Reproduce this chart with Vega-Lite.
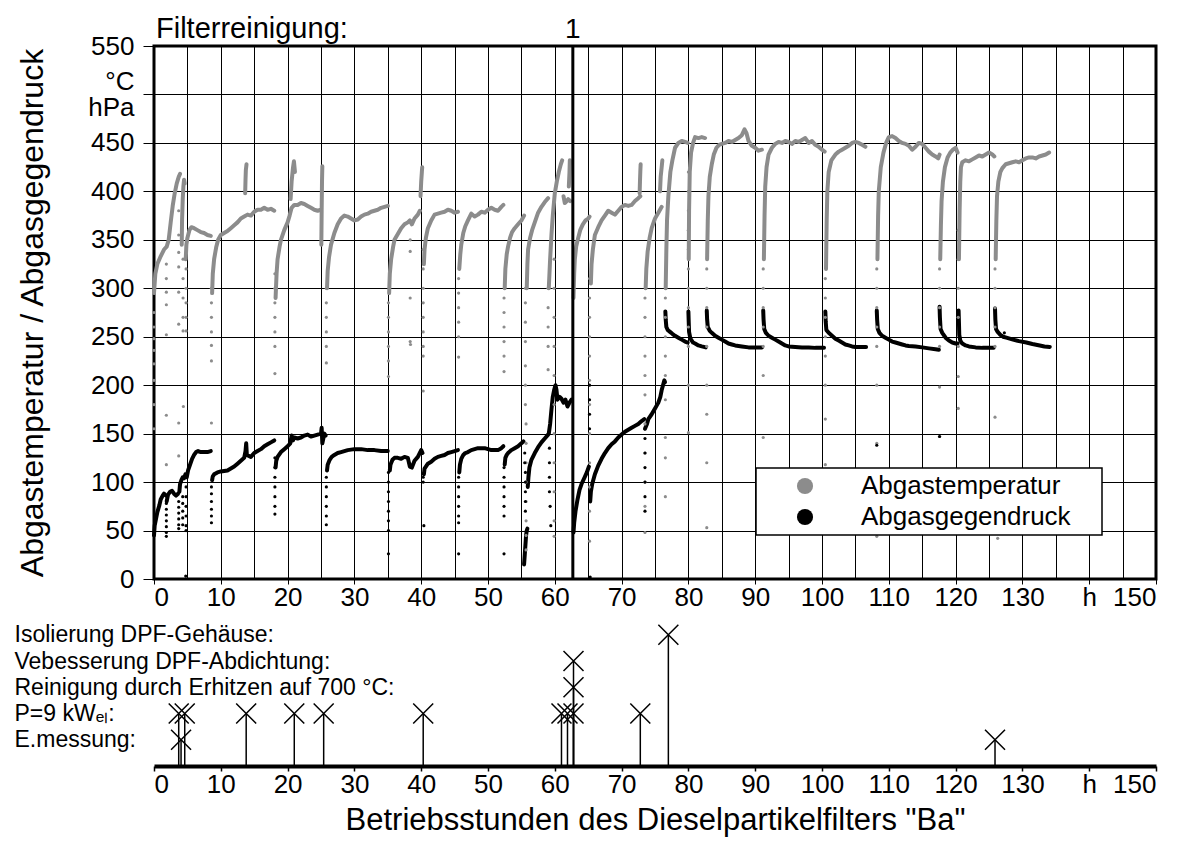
{
"$schema":"https://vega.github.io/schema/vega-lite/v6.json",
"padding":{"left":14,"top":13,"right":10,"bottom":4},
"config":{"font":"Liberation Sans","view":{"stroke":null},"concat":{"spacing":7},
"axis":{"labelColor":"#000","titleColor":"#000","labelFont":"Liberation Sans","titleFont":"Liberation Sans","titleFontWeight":"normal"},
"legend":{"labelFont":"Liberation Sans","strokeWidth":1.5},"text":{"font":"Liberation Sans"}},
"datasets":{
"curves":[
{"s":"T","g":"T1","h":0,"v":295},{"s":"T","g":"T1","h":0.2,"v":315},{"s":"T","g":"T1","h":0.5,"v":325},{"s":"T","g":"T1","h":1,"v":333},{"s":"T","g":"T1","h":1.5,"v":340},{"s":"T","g":"T1","h":1.9,"v":343},{"s":"T","g":"T1","h":2.2,"v":350},{"s":"T","g":"T1","h":2.5,"v":368},{"s":"T","g":"T1","h":2.8,"v":385},{"s":"T","g":"T1","h":3.1,"v":398},{"s":"T","g":"T1","h":3.4,"v":408},{"s":"T","g":"T1","h":3.7,"v":415},{"s":"T","g":"T1","h":3.9,"v":418},
{"s":"T","g":"T1b","h":4.15,"v":345},{"s":"T","g":"T1b","h":4.2,"v":370},{"s":"T","g":"T1b","h":4.3,"v":392},{"s":"T","g":"T1b","h":4.4,"v":405},{"s":"T","g":"T1b","h":4.5,"v":412},{"s":"T","g":"T1b","h":4.6,"v":408},
{"s":"T","g":"T2","h":4.75,"v":330},{"s":"T","g":"T2","h":4.85,"v":345},{"s":"T","g":"T2","h":5.0,"v":352},{"s":"T","g":"T2","h":5.3,"v":360},{"s":"T","g":"T2","h":5.6,"v":363},{"s":"T","g":"T2","h":6,"v":362},{"s":"T","g":"T2","h":6.5,"v":360},{"s":"T","g":"T2","h":7,"v":358},{"s":"T","g":"T2","h":7.5,"v":357},{"s":"T","g":"T2","h":8,"v":355},{"s":"T","g":"T2","h":8.5,"v":354},
{"s":"T","g":"T3","h":8.7,"v":295},{"s":"T","g":"T3","h":8.8,"v":315},{"s":"T","g":"T3","h":9,"v":330},{"s":"T","g":"T3","h":9.3,"v":342},{"s":"T","g":"T3","h":9.6,"v":350},{"s":"T","g":"T3","h":10,"v":355},{"s":"T","g":"T3","h":10.5,"v":357},{"s":"T","g":"T3","h":11,"v":359},{"s":"T","g":"T3","h":11.5,"v":362},{"s":"T","g":"T3","h":12,"v":365},{"s":"T","g":"T3","h":12.5,"v":368},{"s":"T","g":"T3","h":13,"v":372},{"s":"T","g":"T3","h":13.5,"v":374},{"s":"T","g":"T3","h":14,"v":376},{"s":"T","g":"T3","h":14.5,"v":375},{"s":"T","g":"T3","h":15,"v":379},{"s":"T","g":"T3","h":15.5,"v":381},{"s":"T","g":"T3","h":16,"v":381},{"s":"T","g":"T3","h":16.5,"v":383},{"s":"T","g":"T3","h":17,"v":381},{"s":"T","g":"T3","h":17.5,"v":382},{"s":"T","g":"T3","h":18,"v":380},
{"s":"T","g":"T3b","h":13.65,"v":398},{"s":"T","g":"T3b","h":13.7,"v":412},{"s":"T","g":"T3b","h":13.75,"v":422},{"s":"T","g":"T3b","h":13.85,"v":428},
{"s":"T","g":"T4","h":18.2,"v":290},{"s":"T","g":"T4","h":18.35,"v":315},{"s":"T","g":"T4","h":18.5,"v":330},{"s":"T","g":"T4","h":18.8,"v":343},{"s":"T","g":"T4","h":19,"v":350},{"s":"T","g":"T4","h":19.5,"v":360},{"s":"T","g":"T4","h":20,"v":368},{"s":"T","g":"T4","h":20.3,"v":375},{"s":"T","g":"T4","h":20.6,"v":383},{"s":"T","g":"T4","h":21,"v":386},{"s":"T","g":"T4","h":21.5,"v":386},{"s":"T","g":"T4","h":22,"v":388},{"s":"T","g":"T4","h":22.5,"v":387},{"s":"T","g":"T4","h":23,"v":385},{"s":"T","g":"T4","h":23.5,"v":383},{"s":"T","g":"T4","h":24,"v":381},{"s":"T","g":"T4","h":24.5,"v":380},{"s":"T","g":"T4","h":25,"v":381},
{"s":"T","g":"T4b","h":20.45,"v":392},{"s":"T","g":"T4b","h":20.6,"v":410},{"s":"T","g":"T4b","h":20.8,"v":424},{"s":"T","g":"T4b","h":20.95,"v":431},{"s":"T","g":"T4b","h":21.1,"v":420},
{"s":"T","g":"T4c","h":25.05,"v":345},{"s":"T","g":"T4c","h":25.1,"v":380},{"s":"T","g":"T4c","h":25.15,"v":410},{"s":"T","g":"T4c","h":25.2,"v":426},
{"s":"T","g":"T5","h":25.9,"v":300},{"s":"T","g":"T5","h":26.0,"v":318},{"s":"T","g":"T5","h":26.2,"v":332},{"s":"T","g":"T5","h":26.5,"v":345},{"s":"T","g":"T5","h":27,"v":357},{"s":"T","g":"T5","h":27.5,"v":366},{"s":"T","g":"T5","h":28,"v":372},{"s":"T","g":"T5","h":28.5,"v":375},{"s":"T","g":"T5","h":29,"v":374},{"s":"T","g":"T5","h":29.5,"v":372},{"s":"T","g":"T5","h":30,"v":370},{"s":"T","g":"T5","h":30.5,"v":371},{"s":"T","g":"T5","h":31,"v":374},{"s":"T","g":"T5","h":31.5,"v":376},{"s":"T","g":"T5","h":32,"v":377},{"s":"T","g":"T5","h":32.5,"v":379},{"s":"T","g":"T5","h":33,"v":380},{"s":"T","g":"T5","h":33.5,"v":381},{"s":"T","g":"T5","h":34,"v":383},{"s":"T","g":"T5","h":34.5,"v":384},{"s":"T","g":"T5","h":35,"v":385},
{"s":"T","g":"T6","h":35.2,"v":295},{"s":"T","g":"T6","h":35.3,"v":315},{"s":"T","g":"T6","h":35.5,"v":330},{"s":"T","g":"T6","h":35.8,"v":343},{"s":"T","g":"T6","h":36,"v":350},{"s":"T","g":"T6","h":36.5,"v":356},{"s":"T","g":"T6","h":37,"v":362},{"s":"T","g":"T6","h":37.5,"v":366},{"s":"T","g":"T6","h":38,"v":368},{"s":"T","g":"T6","h":38.3,"v":370},{"s":"T","g":"T6","h":38.6,"v":366},{"s":"T","g":"T6","h":39,"v":372},{"s":"T","g":"T6","h":39.5,"v":376},{"s":"T","g":"T6","h":39.8,"v":380},
{"s":"T","g":"T6b","h":39.9,"v":395},{"s":"T","g":"T6b","h":40.0,"v":410},{"s":"T","g":"T6b","h":40.1,"v":420},{"s":"T","g":"T6b","h":40.15,"v":425},
{"s":"T","g":"T7","h":40.4,"v":325},{"s":"T","g":"T7","h":40.5,"v":340},{"s":"T","g":"T7","h":40.7,"v":352},{"s":"T","g":"T7","h":41,"v":362},{"s":"T","g":"T7","h":41.5,"v":370},{"s":"T","g":"T7","h":42,"v":376},{"s":"T","g":"T7","h":42.5,"v":377},{"s":"T","g":"T7","h":43,"v":378},{"s":"T","g":"T7","h":43.5,"v":379},{"s":"T","g":"T7","h":44,"v":381},{"s":"T","g":"T7","h":44.5,"v":380},{"s":"T","g":"T7","h":45,"v":378},{"s":"T","g":"T7","h":45.5,"v":379},
{"s":"T","g":"T8","h":45.7,"v":320},{"s":"T","g":"T8","h":45.85,"v":335},{"s":"T","g":"T8","h":46,"v":345},{"s":"T","g":"T8","h":46.3,"v":357},{"s":"T","g":"T8","h":46.6,"v":364},{"s":"T","g":"T8","h":47,"v":370},{"s":"T","g":"T8","h":47.5,"v":377},{"s":"T","g":"T8","h":48,"v":374},{"s":"T","g":"T8","h":48.5,"v":376},{"s":"T","g":"T8","h":49,"v":379},{"s":"T","g":"T8","h":49.5,"v":378},{"s":"T","g":"T8","h":50,"v":381},{"s":"T","g":"T8","h":50.5,"v":383},{"s":"T","g":"T8","h":51,"v":381},{"s":"T","g":"T8","h":51.5,"v":380},{"s":"T","g":"T8","h":52,"v":384},{"s":"T","g":"T8","h":52.3,"v":386},
{"s":"T","g":"T9","h":52.5,"v":300},{"s":"T","g":"T9","h":52.6,"v":320},{"s":"T","g":"T9","h":52.8,"v":335},{"s":"T","g":"T9","h":53,"v":343},{"s":"T","g":"T9","h":53.3,"v":352},{"s":"T","g":"T9","h":53.6,"v":358},{"s":"T","g":"T9","h":54,"v":362},{"s":"T","g":"T9","h":54.5,"v":366},{"s":"T","g":"T9","h":55,"v":370},{"s":"T","g":"T9","h":55.4,"v":375},
{"s":"T","g":"T10","h":55.8,"v":300},{"s":"T","g":"T10","h":55.9,"v":325},{"s":"T","g":"T10","h":56,"v":340},{"s":"T","g":"T10","h":56.3,"v":352},{"s":"T","g":"T10","h":56.6,"v":360},{"s":"T","g":"T10","h":57,"v":368},{"s":"T","g":"T10","h":57.5,"v":378},{"s":"T","g":"T10","h":58,"v":384},{"s":"T","g":"T10","h":58.5,"v":389},{"s":"T","g":"T10","h":59,"v":393},
{"s":"T","g":"T11","h":59.1,"v":300},{"s":"T","g":"T11","h":59.3,"v":330},{"s":"T","g":"T11","h":59.5,"v":355},{"s":"T","g":"T11","h":59.7,"v":375},{"s":"T","g":"T11","h":60,"v":398},{"s":"T","g":"T11","h":60.3,"v":410},{"s":"T","g":"T11","h":60.6,"v":420},{"s":"T","g":"T11","h":60.9,"v":428},{"s":"T","g":"T11","h":61.1,"v":432},
{"s":"T","g":"T11b","h":61.3,"v":395},{"s":"T","g":"T11b","h":61.5,"v":388},{"s":"T","g":"T11b","h":61.8,"v":390},{"s":"T","g":"T11b","h":62,"v":392},{"s":"T","g":"T11b","h":62.3,"v":390},
{"s":"T","g":"T11c","h":62.1,"v":405},{"s":"T","g":"T11c","h":62.2,"v":420},{"s":"T","g":"T11c","h":62.25,"v":432},
{"s":"T","g":"T12","h":62.8,"v":290},{"s":"T","g":"T12","h":62.9,"v":315},{"s":"T","g":"T12","h":63,"v":330},{"s":"T","g":"T12","h":63.2,"v":343},{"s":"T","g":"T12","h":63.5,"v":352},{"s":"T","g":"T12","h":63.8,"v":360},{"s":"T","g":"T12","h":64.2,"v":366},{"s":"T","g":"T12","h":64.6,"v":370},{"s":"T","g":"T12","h":65,"v":372},{"s":"T","g":"T12","h":65.2,"v":374},
{"s":"T","g":"T13","h":65.4,"v":305},{"s":"T","g":"T13","h":65.5,"v":325},{"s":"T","g":"T13","h":65.7,"v":340},{"s":"T","g":"T13","h":66,"v":355},{"s":"T","g":"T13","h":66.5,"v":363},{"s":"T","g":"T13","h":67,"v":370},{"s":"T","g":"T13","h":67.5,"v":375},{"s":"T","g":"T13","h":68,"v":380},{"s":"T","g":"T13","h":68.5,"v":378},{"s":"T","g":"T13","h":69,"v":376},{"s":"T","g":"T13","h":69.5,"v":380},{"s":"T","g":"T13","h":70,"v":384},{"s":"T","g":"T13","h":70.5,"v":386},{"s":"T","g":"T13","h":71,"v":385},{"s":"T","g":"T13","h":71.5,"v":386},{"s":"T","g":"T13","h":72,"v":390},{"s":"T","g":"T13","h":72.5,"v":393},{"s":"T","g":"T13","h":72.8,"v":395},
{"s":"T","g":"T13b","h":72.7,"v":398},{"s":"T","g":"T13b","h":72.75,"v":410},{"s":"T","g":"T13b","h":72.8,"v":420},{"s":"T","g":"T13b","h":72.85,"v":428},
{"s":"T","g":"T14","h":73.6,"v":300},{"s":"T","g":"T14","h":73.7,"v":320},{"s":"T","g":"T14","h":73.9,"v":338},{"s":"T","g":"T14","h":74.2,"v":352},{"s":"T","g":"T14","h":74.5,"v":362},{"s":"T","g":"T14","h":75,"v":372},{"s":"T","g":"T14","h":75.5,"v":378},{"s":"T","g":"T14","h":76,"v":384},
{"s":"T","g":"T14b","h":75.75,"v":400},{"s":"T","g":"T14b","h":75.85,"v":415},{"s":"T","g":"T14b","h":76.0,"v":425},{"s":"T","g":"T14b","h":76.1,"v":432},
{"s":"T","g":"T15","h":76.6,"v":300},{"s":"T","g":"T15","h":76.7,"v":340},{"s":"T","g":"T15","h":76.8,"v":370},{"s":"T","g":"T15","h":77,"v":395},{"s":"T","g":"T15","h":77.3,"v":420},{"s":"T","g":"T15","h":77.6,"v":432},{"s":"T","g":"T15","h":78,"v":445},{"s":"T","g":"T15","h":78.5,"v":450},{"s":"T","g":"T15","h":79,"v":452},{"s":"T","g":"T15","h":79.5,"v":451},{"s":"T","g":"T15","h":79.9,"v":450},
{"s":"T","g":"T15b","h":80.05,"v":330},{"s":"T","g":"T15b","h":80.1,"v":380},{"s":"T","g":"T15b","h":80.2,"v":420},{"s":"T","g":"T15b","h":80.4,"v":440},{"s":"T","g":"T15b","h":80.7,"v":450},{"s":"T","g":"T15b","h":81,"v":456},{"s":"T","g":"T15b","h":81.5,"v":455},{"s":"T","g":"T15b","h":82,"v":456},{"s":"T","g":"T15b","h":82.5,"v":455},
{"s":"T","g":"T16","h":82.8,"v":330},{"s":"T","g":"T16","h":82.9,"v":370},{"s":"T","g":"T16","h":83,"v":395},{"s":"T","g":"T16","h":83.2,"v":415},{"s":"T","g":"T16","h":83.5,"v":428},{"s":"T","g":"T16","h":83.8,"v":438},{"s":"T","g":"T16","h":84.2,"v":445},{"s":"T","g":"T16","h":84.6,"v":448},{"s":"T","g":"T16","h":85,"v":449},{"s":"T","g":"T16","h":85.5,"v":450},{"s":"T","g":"T16","h":86,"v":452},{"s":"T","g":"T16","h":86.5,"v":451},{"s":"T","g":"T16","h":87,"v":453},{"s":"T","g":"T16","h":87.5,"v":455},{"s":"T","g":"T16","h":88,"v":458},{"s":"T","g":"T16","h":88.4,"v":464},{"s":"T","g":"T16","h":88.7,"v":460},{"s":"T","g":"T16","h":89,"v":452},{"s":"T","g":"T16","h":89.5,"v":447},{"s":"T","g":"T16","h":90,"v":445},{"s":"T","g":"T16","h":90.5,"v":442},{"s":"T","g":"T16","h":91,"v":443},
{"s":"T","g":"T17","h":91.3,"v":330},{"s":"T","g":"T17","h":91.4,"v":375},{"s":"T","g":"T17","h":91.5,"v":405},{"s":"T","g":"T17","h":91.7,"v":425},{"s":"T","g":"T17","h":92,"v":438},{"s":"T","g":"T17","h":92.5,"v":445},{"s":"T","g":"T17","h":93,"v":449},{"s":"T","g":"T17","h":93.5,"v":451},{"s":"T","g":"T17","h":94,"v":450},{"s":"T","g":"T17","h":94.5,"v":452},{"s":"T","g":"T17","h":95,"v":451},{"s":"T","g":"T17","h":95.5,"v":449},{"s":"T","g":"T17","h":96,"v":452},{"s":"T","g":"T17","h":96.5,"v":451},{"s":"T","g":"T17","h":97,"v":453},{"s":"T","g":"T17","h":97.5,"v":455},{"s":"T","g":"T17","h":98,"v":450},{"s":"T","g":"T17","h":98.5,"v":452},{"s":"T","g":"T17","h":99,"v":448},{"s":"T","g":"T17","h":99.5,"v":446},{"s":"T","g":"T17","h":100,"v":443},{"s":"T","g":"T17","h":100.4,"v":441},
{"s":"T","g":"T18","h":100.6,"v":320},{"s":"T","g":"T18","h":100.7,"v":370},{"s":"T","g":"T18","h":100.8,"v":400},{"s":"T","g":"T18","h":101,"v":420},{"s":"T","g":"T18","h":101.4,"v":432},{"s":"T","g":"T18","h":102,"v":438},{"s":"T","g":"T18","h":102.5,"v":441},{"s":"T","g":"T18","h":103,"v":443},{"s":"T","g":"T18","h":103.5,"v":445},{"s":"T","g":"T18","h":104,"v":447},{"s":"T","g":"T18","h":104.5,"v":450},{"s":"T","g":"T18","h":105,"v":451},{"s":"T","g":"T18","h":105.5,"v":450},{"s":"T","g":"T18","h":106,"v":448},{"s":"T","g":"T18","h":106.5,"v":446},
{"s":"T","g":"T19","h":108.3,"v":330},{"s":"T","g":"T19","h":108.4,"v":375},{"s":"T","g":"T19","h":108.5,"v":400},{"s":"T","g":"T19","h":108.8,"v":425},{"s":"T","g":"T19","h":109.2,"v":440},{"s":"T","g":"T19","h":109.6,"v":450},{"s":"T","g":"T19","h":110,"v":456},{"s":"T","g":"T19","h":110.5,"v":457},{"s":"T","g":"T19","h":111,"v":455},{"s":"T","g":"T19","h":111.5,"v":452},{"s":"T","g":"T19","h":112,"v":450},{"s":"T","g":"T19","h":112.5,"v":449},{"s":"T","g":"T19","h":113,"v":447},{"s":"T","g":"T19","h":113.5,"v":443},{"s":"T","g":"T19","h":114,"v":446},{"s":"T","g":"T19","h":114.5,"v":450},{"s":"T","g":"T19","h":115,"v":449},{"s":"T","g":"T19","h":115.5,"v":445},{"s":"T","g":"T19","h":116,"v":441},{"s":"T","g":"T19","h":116.5,"v":438},{"s":"T","g":"T19","h":117,"v":436},{"s":"T","g":"T19","h":117.4,"v":434},{"s":"T","g":"T19","h":117.6,"v":438},
{"s":"T","g":"T20","h":117.7,"v":330},{"s":"T","g":"T20","h":117.8,"v":365},{"s":"T","g":"T20","h":117.9,"v":390},{"s":"T","g":"T20","h":118.1,"v":410},{"s":"T","g":"T20","h":118.4,"v":425},{"s":"T","g":"T20","h":118.8,"v":435},{"s":"T","g":"T20","h":119.2,"v":440},{"s":"T","g":"T20","h":119.6,"v":443},{"s":"T","g":"T20","h":120,"v":445},{"s":"T","g":"T20","h":120.3,"v":440},
{"s":"T","g":"T21","h":120.5,"v":330},{"s":"T","g":"T21","h":120.6,"v":380},{"s":"T","g":"T21","h":120.7,"v":410},{"s":"T","g":"T21","h":120.8,"v":425},{"s":"T","g":"T21","h":121,"v":430},{"s":"T","g":"T21","h":121.5,"v":432},{"s":"T","g":"T21","h":122,"v":431},{"s":"T","g":"T21","h":122.5,"v":433},{"s":"T","g":"T21","h":123,"v":435},{"s":"T","g":"T21","h":123.5,"v":437},{"s":"T","g":"T21","h":124,"v":436},{"s":"T","g":"T21","h":124.5,"v":438},{"s":"T","g":"T21","h":125,"v":440},{"s":"T","g":"T21","h":125.5,"v":438},{"s":"T","g":"T21","h":125.8,"v":436},
{"s":"T","g":"T22","h":126,"v":330},{"s":"T","g":"T22","h":126.1,"v":370},{"s":"T","g":"T22","h":126.2,"v":395},{"s":"T","g":"T22","h":126.4,"v":410},{"s":"T","g":"T22","h":126.7,"v":420},{"s":"T","g":"T22","h":127,"v":424},{"s":"T","g":"T22","h":127.5,"v":428},{"s":"T","g":"T22","h":128,"v":429},{"s":"T","g":"T22","h":128.5,"v":430},{"s":"T","g":"T22","h":129,"v":431},{"s":"T","g":"T22","h":129.5,"v":430},{"s":"T","g":"T22","h":130,"v":432},{"s":"T","g":"T22","h":130.5,"v":434},{"s":"T","g":"T22","h":131,"v":435},{"s":"T","g":"T22","h":131.5,"v":435},{"s":"T","g":"T22","h":132,"v":434},{"s":"T","g":"T22","h":132.5,"v":436},{"s":"T","g":"T22","h":133,"v":437},{"s":"T","g":"T22","h":133.5,"v":438},{"s":"T","g":"T22","h":134,"v":440},
{"s":"P","g":"P1","h":0,"v":45},{"s":"P","g":"P1","h":0.1,"v":55},{"s":"P","g":"P1","h":0.3,"v":62},{"s":"P","g":"P1","h":0.5,"v":69},{"s":"P","g":"P1","h":0.8,"v":76},{"s":"P","g":"P1","h":1,"v":82},{"s":"P","g":"P1","h":1.3,"v":86},{"s":"P","g":"P1","h":1.5,"v":88},{"s":"P","g":"P1","h":1.8,"v":86},
{"s":"P","g":"P2","h":1.9,"v":80},{"s":"P","g":"P2","h":2.1,"v":87},{"s":"P","g":"P2","h":2.4,"v":90},{"s":"P","g":"P2","h":2.7,"v":91},{"s":"P","g":"P2","h":3,"v":88},{"s":"P","g":"P2","h":3.3,"v":86},{"s":"P","g":"P2","h":3.6,"v":88},
{"s":"P","g":"P3","h":3.8,"v":90},{"s":"P","g":"P3","h":3.9,"v":98},{"s":"P","g":"P3","h":4.1,"v":102},{"s":"P","g":"P3","h":4.3,"v":105},{"s":"P","g":"P3","h":4.5,"v":104},{"s":"P","g":"P3","h":4.7,"v":108},
{"s":"P","g":"P4","h":4.9,"v":105},{"s":"P","g":"P4","h":5.1,"v":112},{"s":"P","g":"P4","h":5.4,"v":118},{"s":"P","g":"P4","h":5.7,"v":124},{"s":"P","g":"P4","h":6,"v":128},{"s":"P","g":"P4","h":6.3,"v":131},{"s":"P","g":"P4","h":6.6,"v":132},{"s":"P","g":"P4","h":7,"v":131},{"s":"P","g":"P4","h":7.5,"v":131},{"s":"P","g":"P4","h":8,"v":131},{"s":"P","g":"P4","h":8.5,"v":132},
{"s":"P","g":"P5","h":8.7,"v":102},{"s":"P","g":"P5","h":8.8,"v":106},{"s":"P","g":"P5","h":9,"v":108},{"s":"P","g":"P5","h":9.5,"v":110},{"s":"P","g":"P5","h":10,"v":111},{"s":"P","g":"P5","h":11,"v":112},{"s":"P","g":"P5","h":12,"v":116},{"s":"P","g":"P5","h":12.5,"v":119},{"s":"P","g":"P5","h":13,"v":122},{"s":"P","g":"P5","h":13.5,"v":125},{"s":"P","g":"P5","h":13.7,"v":132},{"s":"P","g":"P5","h":13.8,"v":140},{"s":"P","g":"P5","h":13.9,"v":128},{"s":"P","g":"P5","h":14.5,"v":126},{"s":"P","g":"P5","h":15,"v":130},{"s":"P","g":"P5","h":15.5,"v":132},{"s":"P","g":"P5","h":16,"v":134},{"s":"P","g":"P5","h":16.5,"v":137},{"s":"P","g":"P5","h":17,"v":139},{"s":"P","g":"P5","h":17.5,"v":141},{"s":"P","g":"P5","h":18,"v":143},
{"s":"P","g":"P6","h":18.2,"v":115},{"s":"P","g":"P6","h":18.3,"v":122},{"s":"P","g":"P6","h":18.5,"v":126},{"s":"P","g":"P6","h":19,"v":131},{"s":"P","g":"P6","h":19.5,"v":134},{"s":"P","g":"P6","h":20,"v":137},{"s":"P","g":"P6","h":20.4,"v":140},{"s":"P","g":"P6","h":20.6,"v":148},{"s":"P","g":"P6","h":20.8,"v":143},{"s":"P","g":"P6","h":21,"v":146},{"s":"P","g":"P6","h":21.5,"v":145},{"s":"P","g":"P6","h":22,"v":146},{"s":"P","g":"P6","h":22.5,"v":148},{"s":"P","g":"P6","h":23,"v":149},{"s":"P","g":"P6","h":23.5,"v":147},{"s":"P","g":"P6","h":24,"v":148},{"s":"P","g":"P6","h":24.5,"v":149},{"s":"P","g":"P6","h":25,"v":150},{"s":"P","g":"P6","h":25.1,"v":156},{"s":"P","g":"P6","h":25.2,"v":140},{"s":"P","g":"P6","h":25.5,"v":150},{"s":"P","g":"P6","h":25.7,"v":148},
{"s":"P","g":"P7","h":25.9,"v":112},{"s":"P","g":"P7","h":26,"v":118},{"s":"P","g":"P7","h":26.3,"v":123},{"s":"P","g":"P7","h":26.6,"v":126},{"s":"P","g":"P7","h":27,"v":128},{"s":"P","g":"P7","h":27.5,"v":130},{"s":"P","g":"P7","h":28,"v":131},{"s":"P","g":"P7","h":29,"v":133},{"s":"P","g":"P7","h":30,"v":134},{"s":"P","g":"P7","h":31,"v":134},{"s":"P","g":"P7","h":32,"v":133},{"s":"P","g":"P7","h":33,"v":133},{"s":"P","g":"P7","h":34,"v":132},{"s":"P","g":"P7","h":35,"v":132},
{"s":"P","g":"P8","h":35.3,"v":112},{"s":"P","g":"P8","h":35.4,"v":118},{"s":"P","g":"P8","h":35.7,"v":123},{"s":"P","g":"P8","h":36,"v":125},{"s":"P","g":"P8","h":36.5,"v":125},{"s":"P","g":"P8","h":37,"v":124},{"s":"P","g":"P8","h":37.5,"v":126},{"s":"P","g":"P8","h":38,"v":125},{"s":"P","g":"P8","h":38.3,"v":116},{"s":"P","g":"P8","h":38.6,"v":115},{"s":"P","g":"P8","h":39,"v":122},{"s":"P","g":"P8","h":39.5,"v":126},{"s":"P","g":"P8","h":40,"v":133},{"s":"P","g":"P8","h":40.2,"v":130},
{"s":"P","g":"P9","h":40.4,"v":108},{"s":"P","g":"P9","h":40.5,"v":114},{"s":"P","g":"P9","h":40.8,"v":117},{"s":"P","g":"P9","h":41,"v":119},{"s":"P","g":"P9","h":41.5,"v":121},{"s":"P","g":"P9","h":42,"v":124},{"s":"P","g":"P9","h":42.5,"v":126},{"s":"P","g":"P9","h":43,"v":127},{"s":"P","g":"P9","h":43.5,"v":128},{"s":"P","g":"P9","h":44,"v":130},{"s":"P","g":"P9","h":44.5,"v":131},{"s":"P","g":"P9","h":45,"v":132},{"s":"P","g":"P9","h":45.5,"v":133},
{"s":"P","g":"P10","h":45.7,"v":110},{"s":"P","g":"P10","h":45.8,"v":118},{"s":"P","g":"P10","h":46,"v":124},{"s":"P","g":"P10","h":46.3,"v":128},{"s":"P","g":"P10","h":46.6,"v":130},{"s":"P","g":"P10","h":47,"v":131},{"s":"P","g":"P10","h":47.5,"v":133},{"s":"P","g":"P10","h":48,"v":134},{"s":"P","g":"P10","h":48.5,"v":135},{"s":"P","g":"P10","h":49,"v":135},{"s":"P","g":"P10","h":49.5,"v":135},{"s":"P","g":"P10","h":50,"v":134},{"s":"P","g":"P10","h":50.5,"v":133},{"s":"P","g":"P10","h":51,"v":133},{"s":"P","g":"P10","h":51.5,"v":133},{"s":"P","g":"P10","h":52,"v":135},{"s":"P","g":"P10","h":52.3,"v":137},
{"s":"P","g":"P11","h":52.5,"v":118},{"s":"P","g":"P11","h":52.6,"v":125},{"s":"P","g":"P11","h":52.8,"v":128},{"s":"P","g":"P11","h":53,"v":130},{"s":"P","g":"P11","h":53.5,"v":133},{"s":"P","g":"P11","h":54,"v":135},{"s":"P","g":"P11","h":54.5,"v":137},{"s":"P","g":"P11","h":55,"v":140},{"s":"P","g":"P11","h":55.3,"v":142},
{"s":"P","g":"P11b","h":55.4,"v":15},{"s":"P","g":"P11b","h":55.5,"v":25},{"s":"P","g":"P11b","h":55.6,"v":35},{"s":"P","g":"P11b","h":55.7,"v":45},{"s":"P","g":"P11b","h":55.8,"v":50},{"s":"P","g":"P11b","h":55.9,"v":52},
{"s":"P","g":"P12","h":55.95,"v":95},{"s":"P","g":"P12","h":56.05,"v":105},{"s":"P","g":"P12","h":56.2,"v":115},{"s":"P","g":"P12","h":56.5,"v":123},{"s":"P","g":"P12","h":57,"v":130},{"s":"P","g":"P12","h":57.5,"v":136},{"s":"P","g":"P12","h":58,"v":141},{"s":"P","g":"P12","h":58.5,"v":145},{"s":"P","g":"P12","h":59,"v":149},
{"s":"P","g":"P13","h":59.1,"v":150},{"s":"P","g":"P13","h":59.3,"v":160},{"s":"P","g":"P13","h":59.5,"v":175},{"s":"P","g":"P13","h":59.7,"v":188},{"s":"P","g":"P13","h":59.9,"v":195},{"s":"P","g":"P13","h":60.1,"v":200},{"s":"P","g":"P13","h":60.25,"v":195},{"s":"P","g":"P13","h":60.4,"v":185},{"s":"P","g":"P13","h":60.7,"v":188},{"s":"P","g":"P13","h":61,"v":186},{"s":"P","g":"P13","h":61.3,"v":182},{"s":"P","g":"P13","h":61.6,"v":185},{"s":"P","g":"P13","h":61.9,"v":178},{"s":"P","g":"P13","h":62.2,"v":182},{"s":"P","g":"P13","h":62.5,"v":185},
{"s":"P","g":"P14","h":62.8,"v":48},{"s":"P","g":"P14","h":62.9,"v":58},{"s":"P","g":"P14","h":63.1,"v":70},{"s":"P","g":"P14","h":63.4,"v":82},{"s":"P","g":"P14","h":63.7,"v":92},{"s":"P","g":"P14","h":64,"v":98},{"s":"P","g":"P14","h":64.4,"v":104},{"s":"P","g":"P14","h":64.8,"v":110},{"s":"P","g":"P14","h":65.1,"v":116},
{"s":"P","g":"P15","h":65.3,"v":80},{"s":"P","g":"P15","h":65.4,"v":90},{"s":"P","g":"P15","h":65.6,"v":98},{"s":"P","g":"P15","h":66,"v":108},{"s":"P","g":"P15","h":66.5,"v":117},{"s":"P","g":"P15","h":67,"v":124},{"s":"P","g":"P15","h":67.5,"v":130},{"s":"P","g":"P15","h":68,"v":135},{"s":"P","g":"P15","h":68.5,"v":139},{"s":"P","g":"P15","h":69,"v":142},{"s":"P","g":"P15","h":69.5,"v":146},{"s":"P","g":"P15","h":70,"v":149},{"s":"P","g":"P15","h":70.5,"v":152},{"s":"P","g":"P15","h":71,"v":154},{"s":"P","g":"P15","h":71.5,"v":156},{"s":"P","g":"P15","h":72,"v":158},{"s":"P","g":"P15","h":72.5,"v":160},{"s":"P","g":"P15","h":73,"v":163},{"s":"P","g":"P15","h":73.4,"v":165},
{"s":"P","g":"P16","h":73.5,"v":155},{"s":"P","g":"P16","h":73.8,"v":160},{"s":"P","g":"P16","h":74,"v":165},{"s":"P","g":"P16","h":74.5,"v":170},{"s":"P","g":"P16","h":75,"v":176},{"s":"P","g":"P16","h":75.5,"v":182},{"s":"P","g":"P16","h":75.8,"v":188},{"s":"P","g":"P16","h":76,"v":195},{"s":"P","g":"P16","h":76.2,"v":200},{"s":"P","g":"P16","h":76.4,"v":205},{"s":"P","g":"P16","h":76.5,"v":203},
{"s":"P","g":"P17","h":76.55,"v":276},{"s":"P","g":"P17","h":76.6,"v":268},{"s":"P","g":"P17","h":76.7,"v":260},{"s":"P","g":"P17","h":76.9,"v":257},{"s":"P","g":"P17","h":77.25,"v":255},{"s":"P","g":"P17","h":77.6,"v":253},{"s":"P","g":"P17","h":78,"v":251},{"s":"P","g":"P17","h":78.5,"v":249},{"s":"P","g":"P17","h":79,"v":247},{"s":"P","g":"P17","h":79.5,"v":245},{"s":"P","g":"P17","h":79.9,"v":244},
{"s":"P","g":"P17b","h":80,"v":276},{"s":"P","g":"P17b","h":80.05,"v":265},{"s":"P","g":"P17b","h":80.1,"v":255},{"s":"P","g":"P17b","h":80.3,"v":248},{"s":"P","g":"P17b","h":80.7,"v":244},{"s":"P","g":"P17b","h":81,"v":243},{"s":"P","g":"P17b","h":81.5,"v":241},{"s":"P","g":"P17b","h":82,"v":240},{"s":"P","g":"P17b","h":82.6,"v":239},
{"s":"P","g":"P18","h":82.75,"v":277},{"s":"P","g":"P18","h":82.8,"v":268},{"s":"P","g":"P18","h":82.9,"v":260},{"s":"P","g":"P18","h":83.2,"v":256},{"s":"P","g":"P18","h":83.5,"v":254},{"s":"P","g":"P18","h":84,"v":251},{"s":"P","g":"P18","h":84.5,"v":249},{"s":"P","g":"P18","h":85,"v":247},{"s":"P","g":"P18","h":85.5,"v":245},{"s":"P","g":"P18","h":86,"v":243},{"s":"P","g":"P18","h":86.5,"v":242},{"s":"P","g":"P18","h":87,"v":241},{"s":"P","g":"P18","h":88,"v":240},{"s":"P","g":"P18","h":89,"v":239},{"s":"P","g":"P18","h":90,"v":239},{"s":"P","g":"P18","h":91,"v":239},
{"s":"P","g":"P19","h":91.2,"v":277},{"s":"P","g":"P19","h":91.25,"v":268},{"s":"P","g":"P19","h":91.35,"v":258},{"s":"P","g":"P19","h":91.6,"v":254},{"s":"P","g":"P19","h":92,"v":251},{"s":"P","g":"P19","h":92.5,"v":249},{"s":"P","g":"P19","h":93,"v":247},{"s":"P","g":"P19","h":93.5,"v":245},{"s":"P","g":"P19","h":94,"v":243},{"s":"P","g":"P19","h":94.5,"v":241},{"s":"P","g":"P19","h":95,"v":240},{"s":"P","g":"P19","h":96,"v":239.5},{"s":"P","g":"P19","h":97,"v":239},{"s":"P","g":"P19","h":98,"v":239},{"s":"P","g":"P19","h":99,"v":238.5},{"s":"P","g":"P19","h":100.3,"v":238.5},
{"s":"P","g":"P20","h":100.5,"v":276},{"s":"P","g":"P20","h":100.55,"v":266},{"s":"P","g":"P20","h":100.65,"v":257},{"s":"P","g":"P20","h":101,"v":254},{"s":"P","g":"P20","h":101.5,"v":251},{"s":"P","g":"P20","h":102,"v":248},{"s":"P","g":"P20","h":102.5,"v":246},{"s":"P","g":"P20","h":103,"v":244},{"s":"P","g":"P20","h":103.5,"v":242},{"s":"P","g":"P20","h":104,"v":241},{"s":"P","g":"P20","h":104.5,"v":240},{"s":"P","g":"P20","h":105,"v":239.5},{"s":"P","g":"P20","h":106,"v":239.5},{"s":"P","g":"P20","h":106.6,"v":239.5},
{"s":"P","g":"P21","h":108.2,"v":277},{"s":"P","g":"P21","h":108.25,"v":268},{"s":"P","g":"P21","h":108.35,"v":258},{"s":"P","g":"P21","h":108.6,"v":254},{"s":"P","g":"P21","h":109,"v":251},{"s":"P","g":"P21","h":109.5,"v":249},{"s":"P","g":"P21","h":110,"v":247},{"s":"P","g":"P21","h":110.5,"v":245},{"s":"P","g":"P21","h":111,"v":244},{"s":"P","g":"P21","h":111.5,"v":243},{"s":"P","g":"P21","h":112,"v":242},{"s":"P","g":"P21","h":112.5,"v":241},{"s":"P","g":"P21","h":113,"v":240.5},{"s":"P","g":"P21","h":114,"v":240},{"s":"P","g":"P21","h":115,"v":239},{"s":"P","g":"P21","h":116,"v":238},{"s":"P","g":"P21","h":117,"v":237},{"s":"P","g":"P21","h":117.5,"v":236.5},
{"s":"P","g":"P22","h":117.6,"v":281},{"s":"P","g":"P22","h":117.65,"v":270},{"s":"P","g":"P22","h":117.75,"v":258},{"s":"P","g":"P22","h":118,"v":254},{"s":"P","g":"P22","h":118.5,"v":249},{"s":"P","g":"P22","h":119,"v":246},{"s":"P","g":"P22","h":119.5,"v":244},{"s":"P","g":"P22","h":120,"v":243},{"s":"P","g":"P22","h":120.3,"v":243},
{"s":"P","g":"P23","h":120.45,"v":277},{"s":"P","g":"P23","h":120.5,"v":265},{"s":"P","g":"P23","h":120.55,"v":252},{"s":"P","g":"P23","h":120.7,"v":246},{"s":"P","g":"P23","h":121,"v":243},{"s":"P","g":"P23","h":121.5,"v":241},{"s":"P","g":"P23","h":122,"v":240},{"s":"P","g":"P23","h":123,"v":239},{"s":"P","g":"P23","h":124,"v":238.5},{"s":"P","g":"P23","h":125,"v":238.5},{"s":"P","g":"P23","h":125.7,"v":238.5},
{"s":"P","g":"P24","h":125.9,"v":279},{"s":"P","g":"P24","h":125.95,"v":268},{"s":"P","g":"P24","h":126.05,"v":258},{"s":"P","g":"P24","h":126.3,"v":255},{"s":"P","g":"P24","h":126.7,"v":252},{"s":"P","g":"P24","h":127.1,"v":250},{"s":"P","g":"P24","h":127.6,"v":249},{"s":"P","g":"P24","h":128.1,"v":248},{"s":"P","g":"P24","h":128.6,"v":247},{"s":"P","g":"P24","h":129.5,"v":245.5},{"s":"P","g":"P24","h":130.6,"v":244},{"s":"P","g":"P24","h":131.5,"v":242.5},{"s":"P","g":"P24","h":132.6,"v":241},{"s":"P","g":"P24","h":133.3,"v":240},{"s":"P","g":"P24","h":134.1,"v":239.5}
],
"dots":[
{"s":"T","h":0,"v":275},{"s":"T","h":0,"v":260},{"s":"T","h":0,"v":248},{"s":"T","h":0,"v":236},{"s":"T","h":0,"v":222},{"s":"T","h":0,"v":205},{"s":"T","h":0,"v":180},{"s":"T","h":0,"v":155},
{"s":"T","h":1.85,"v":325},{"s":"T","h":1.85,"v":310},{"s":"T","h":1.85,"v":296},{"s":"T","h":1.85,"v":283},{"s":"T","h":1.85,"v":252},{"s":"T","h":1.85,"v":169},{"s":"T","h":1.85,"v":118},
{"s":"T","h":3.7,"v":380},{"s":"T","h":3.7,"v":355},{"s":"T","h":3.7,"v":337},{"s":"T","h":3.7,"v":322},{"s":"T","h":3.7,"v":296},{"s":"T","h":3.7,"v":263},{"s":"T","h":3.7,"v":161},{"s":"T","h":3.7,"v":127},
{"s":"T","h":4.35,"v":330},{"s":"T","h":4.35,"v":310},{"s":"T","h":4.35,"v":290},{"s":"T","h":4.35,"v":270},{"s":"T","h":4.35,"v":256},{"s":"T","h":4.4,"v":178},
{"s":"T","h":4.8,"v":320},{"s":"T","h":4.8,"v":300},{"s":"T","h":4.8,"v":285},{"s":"T","h":4.8,"v":270},{"s":"T","h":4.8,"v":256},
{"s":"T","h":8.6,"v":300},{"s":"T","h":8.6,"v":285},{"s":"T","h":8.6,"v":270},{"s":"T","h":8.6,"v":255},{"s":"T","h":8.6,"v":241},{"s":"T","h":8.6,"v":225},{"s":"T","h":8.6,"v":161},
{"s":"T","h":18.1,"v":315},{"s":"T","h":18.1,"v":300},{"s":"T","h":18.1,"v":285},{"s":"T","h":18.1,"v":270},{"s":"T","h":18.1,"v":255},{"s":"T","h":18.1,"v":240},{"s":"T","h":18.1,"v":212},
{"s":"T","h":25.8,"v":300},{"s":"T","h":25.8,"v":285},{"s":"T","h":25.8,"v":270},{"s":"T","h":25.8,"v":255},{"s":"T","h":25.8,"v":240},{"s":"T","h":25.8,"v":223},
{"s":"T","h":35.1,"v":285},{"s":"T","h":35.1,"v":270},{"s":"T","h":35.1,"v":255},{"s":"T","h":35.1,"v":240},{"s":"T","h":35.1,"v":225},{"s":"T","h":35.1,"v":209},
{"s":"T","h":38.35,"v":350},{"s":"T","h":38.35,"v":338},{"s":"T","h":38.35,"v":290},{"s":"T","h":38.35,"v":245},{"s":"T","h":38.4,"v":242},
{"s":"T","h":40.3,"v":340},{"s":"T","h":40.3,"v":320},{"s":"T","h":40.3,"v":300},{"s":"T","h":40.3,"v":285},{"s":"T","h":40.3,"v":270},{"s":"T","h":40.3,"v":255},{"s":"T","h":40.3,"v":240},{"s":"T","h":40.3,"v":230},{"s":"T","h":40.3,"v":194},
{"s":"T","h":45.6,"v":310},{"s":"T","h":45.6,"v":295},{"s":"T","h":45.6,"v":280},{"s":"T","h":45.6,"v":265},{"s":"T","h":45.6,"v":250},{"s":"T","h":45.6,"v":229},
{"s":"T","h":52.4,"v":290},{"s":"T","h":52.4,"v":275},{"s":"T","h":52.4,"v":260},{"s":"T","h":52.4,"v":245},{"s":"T","h":52.4,"v":230},{"s":"T","h":52.4,"v":214},
{"s":"T","h":55.6,"v":300},{"s":"T","h":55.6,"v":285},{"s":"T","h":55.6,"v":265},{"s":"T","h":55.6,"v":245},{"s":"T","h":55.6,"v":220},{"s":"T","h":55.6,"v":200},{"s":"T","h":55.6,"v":180},{"s":"T","h":55.7,"v":160},{"s":"T","h":55.7,"v":140},{"s":"T","h":55.7,"v":120},{"s":"T","h":55.7,"v":100},{"s":"T","h":55.7,"v":80},{"s":"T","h":55.7,"v":60},{"s":"T","h":55.7,"v":45},{"s":"T","h":55.7,"v":30},
{"s":"T","h":59,"v":300},{"s":"T","h":59,"v":280},{"s":"T","h":59,"v":260},{"s":"T","h":59,"v":240},{"s":"T","h":59,"v":216},
{"s":"T","h":59.9,"v":330},{"s":"T","h":59.9,"v":300},{"s":"T","h":59.9,"v":270},{"s":"T","h":59.9,"v":240},{"s":"T","h":59.9,"v":210},{"s":"T","h":59.9,"v":180},{"s":"T","h":59.9,"v":150},{"s":"T","h":59.9,"v":120},{"s":"T","h":59.9,"v":90},{"s":"T","h":59.9,"v":60},{"s":"T","h":59.9,"v":44},
{"s":"T","h":65.2,"v":310},{"s":"T","h":65.2,"v":290},{"s":"T","h":65.2,"v":270},{"s":"T","h":65.2,"v":250},{"s":"T","h":65.2,"v":230},{"s":"T","h":65.2,"v":205},{"s":"T","h":65.2,"v":180},{"s":"T","h":65.2,"v":150},{"s":"T","h":65.2,"v":120},{"s":"T","h":65.2,"v":95},{"s":"T","h":65.2,"v":70},{"s":"T","h":65.2,"v":39},
{"s":"T","h":73.5,"v":290},{"s":"T","h":73.5,"v":270},{"s":"T","h":73.5,"v":250},{"s":"T","h":73.5,"v":230},{"s":"T","h":73.5,"v":210},{"s":"T","h":73.5,"v":190},{"s":"T","h":73.5,"v":160},{"s":"T","h":73.5,"v":130},{"s":"T","h":73.5,"v":100},{"s":"T","h":73.5,"v":75},{"s":"T","h":73.5,"v":48},
{"s":"T","h":76.55,"v":290},{"s":"T","h":76.55,"v":270},{"s":"T","h":76.55,"v":250},{"s":"T","h":76.55,"v":230},{"s":"T","h":76.55,"v":210},{"s":"T","h":76.55,"v":185},{"s":"T","h":76.55,"v":146},{"s":"T","h":76.55,"v":125},{"s":"T","h":76.55,"v":85},
{"s":"T","h":80,"v":420},{"s":"T","h":80,"v":400},{"s":"T","h":80,"v":380},{"s":"T","h":80,"v":360},{"s":"T","h":80,"v":340},{"s":"T","h":80,"v":320},{"s":"T","h":80,"v":300},{"s":"T","h":80,"v":280},{"s":"T","h":80,"v":260},{"s":"T","h":80,"v":240},{"s":"T","h":80,"v":200},{"s":"T","h":80,"v":151},
{"s":"T","h":82.75,"v":320},{"s":"T","h":82.75,"v":300},{"s":"T","h":82.75,"v":280},{"s":"T","h":82.75,"v":260},{"s":"T","h":82.75,"v":240},{"s":"T","h":82.75,"v":200},{"s":"T","h":82.75,"v":170},{"s":"T","h":82.75,"v":120},{"s":"T","h":82.75,"v":53},
{"s":"T","h":91.2,"v":320},{"s":"T","h":91.2,"v":300},{"s":"T","h":91.2,"v":280},{"s":"T","h":91.2,"v":260},{"s":"T","h":91.2,"v":240},{"s":"T","h":91.2,"v":210},{"s":"T","h":91.2,"v":146},
{"s":"T","h":100.5,"v":310},{"s":"T","h":100.5,"v":290},{"s":"T","h":100.5,"v":270},{"s":"T","h":100.5,"v":250},{"s":"T","h":100.5,"v":230},{"s":"T","h":100.5,"v":200},{"s":"T","h":100.5,"v":165},{"s":"T","h":100.5,"v":118},
{"s":"T","h":108.2,"v":320},{"s":"T","h":108.2,"v":300},{"s":"T","h":108.2,"v":280},{"s":"T","h":108.2,"v":260},{"s":"T","h":108.2,"v":240},{"s":"T","h":108.2,"v":200},{"s":"T","h":108.2,"v":140},{"s":"T","h":108.2,"v":100},{"s":"T","h":108.2,"v":44},
{"s":"T","h":117.6,"v":320},{"s":"T","h":117.6,"v":300},{"s":"T","h":117.6,"v":280},{"s":"T","h":117.6,"v":260},{"s":"T","h":117.6,"v":240},{"s":"T","h":117.6,"v":198},{"s":"T","h":117.6,"v":147},
{"s":"T","h":120.4,"v":360},{"s":"T","h":120.4,"v":330},{"s":"T","h":120.4,"v":300},{"s":"T","h":120.4,"v":270},{"s":"T","h":120.4,"v":240},{"s":"T","h":120.4,"v":209},{"s":"T","h":120.4,"v":176},
{"s":"T","h":125.9,"v":320},{"s":"T","h":125.9,"v":300},{"s":"T","h":125.9,"v":280},{"s":"T","h":125.9,"v":260},{"s":"T","h":125.9,"v":240},{"s":"T","h":125.9,"v":167},{"s":"T","h":126.3,"v":42},
{"s":"P","h":1.85,"v":78},{"s":"P","h":1.85,"v":72},{"s":"P","h":1.85,"v":66},{"s":"P","h":1.85,"v":60},{"s":"P","h":1.85,"v":54},{"s":"P","h":1.85,"v":48},{"s":"P","h":1.85,"v":44},
{"s":"P","h":3.7,"v":80},{"s":"P","h":3.7,"v":74},{"s":"P","h":3.7,"v":68},{"s":"P","h":3.7,"v":62},{"s":"P","h":3.7,"v":56},{"s":"P","h":3.7,"v":52},
{"s":"P","h":4.3,"v":85},{"s":"P","h":4.3,"v":78},{"s":"P","h":4.3,"v":70},{"s":"P","h":4.3,"v":63},{"s":"P","h":4.3,"v":56},
{"s":"P","h":4.8,"v":95},{"s":"P","h":4.8,"v":85},{"s":"P","h":4.8,"v":75},{"s":"P","h":4.8,"v":65},{"s":"P","h":4.8,"v":55},{"s":"P","h":4.8,"v":50},{"s":"P","h":4.75,"v":3},
{"s":"P","h":8.6,"v":95},{"s":"P","h":8.6,"v":88},{"s":"P","h":8.6,"v":80},{"s":"P","h":8.6,"v":72},{"s":"P","h":8.6,"v":65},{"s":"P","h":8.6,"v":58},
{"s":"P","h":18.1,"v":125},{"s":"P","h":18.1,"v":115},{"s":"P","h":18.1,"v":105},{"s":"P","h":18.1,"v":95},{"s":"P","h":18.1,"v":85},{"s":"P","h":18.1,"v":75},{"s":"P","h":18.1,"v":67},
{"s":"P","h":25.8,"v":105},{"s":"P","h":25.8,"v":95},{"s":"P","h":25.8,"v":85},{"s":"P","h":25.8,"v":75},{"s":"P","h":25.8,"v":65},{"s":"P","h":25.8,"v":56},
{"s":"P","h":35.1,"v":110},{"s":"P","h":35.1,"v":100},{"s":"P","h":35.1,"v":90},{"s":"P","h":35.1,"v":80},{"s":"P","h":35.1,"v":70},{"s":"P","h":35.1,"v":60},{"s":"P","h":35.1,"v":50},{"s":"P","h":35.1,"v":26},
{"s":"P","h":40.3,"v":105},{"s":"P","h":40.3,"v":100},{"s":"P","h":40.4,"v":55},
{"s":"P","h":45.6,"v":105},{"s":"P","h":45.6,"v":95},{"s":"P","h":45.6,"v":85},{"s":"P","h":45.6,"v":75},{"s":"P","h":45.6,"v":65},{"s":"P","h":45.6,"v":58},{"s":"P","h":45.6,"v":26},
{"s":"P","h":52.4,"v":115},{"s":"P","h":52.4,"v":105},{"s":"P","h":52.4,"v":95},{"s":"P","h":52.4,"v":85},{"s":"P","h":52.4,"v":75},{"s":"P","h":52.4,"v":65},{"s":"P","h":52.4,"v":26},
{"s":"P","h":55.5,"v":130},{"s":"P","h":55.5,"v":120},{"s":"P","h":55.6,"v":110},{"s":"P","h":55.6,"v":100},{"s":"P","h":55.6,"v":90},{"s":"P","h":55.6,"v":80},{"s":"P","h":55.6,"v":70},
{"s":"P","h":59.2,"v":135},{"s":"P","h":59.2,"v":120},{"s":"P","h":59.2,"v":105},{"s":"P","h":59.2,"v":90},{"s":"P","h":59.3,"v":75},{"s":"P","h":59.4,"v":55},
{"s":"P","h":65.2,"v":200},{"s":"P","h":65.2,"v":185},{"s":"P","h":65.2,"v":170},{"s":"P","h":65.2,"v":155},{"s":"P","h":65.3,"v":2},
{"s":"P","h":73.5,"v":145},{"s":"P","h":73.5,"v":130},{"s":"P","h":73.5,"v":115},{"s":"P","h":73.5,"v":100},{"s":"P","h":73.5,"v":85},{"s":"P","h":73.5,"v":70},
{"s":"P","h":108.2,"v":138},{"s":"P","h":117.6,"v":147},{"s":"P","h":127.3,"v":254}
],
"events":[
{"h":3.7,"lvl":2},{"h":4.6,"lvl":2},{"h":4.05,"lvl":1},{"h":13.8,"lvl":2},{"h":21.0,"lvl":2},{"h":25.4,"lvl":2},{"h":40.3,"lvl":2},{"h":61.0,"lvl":2},{"h":61.9,"lvl":2},{"h":62.8,"lvl":2},{"h":62.8,"lvl":3},{"h":62.8,"lvl":4},{"h":72.8,"lvl":2},{"h":77.0,"lvl":5},{"h":125.9,"lvl":1}
],
"cleaning":[{"h":62.7,"label":"1"}]
},
"vconcat":[
{
"width":1002,"height":533,
"view":{"stroke":"#000","strokeWidth":3},
"layer":[
{"data":{"name":"curves"},
 "mark":{"type":"line","strokeWidth":4,"strokeCap":"round","strokeJoin":"round"},
 "encoding":{
  "x":{"field":"h","type":"quantitative","scale":{"domain":[0,150],"nice":false},
   "axis":{"orient":"bottom","values":[0,10,20,30,40,50,60,70,80,90,100,110,120,130,140,150],"grid":false,"domain":false,"tickSize":5,"tickColor":"#000","labelFontSize":26,"labelPadding":0,"labelOverlap":false,"labelExpr":"datum.value == 140 ? 'h' : datum.label","title":null}},
  "y":{"field":"v","type":"quantitative","scale":{"domain":[0,550],"nice":false},
   "axis":{"values":[0,50,100,150,200,250,300,350,400,450,500,550],"grid":true,"gridColor":"#000","gridWidth":1,"gridOpacity":1,"domain":false,"tickSize":11,"tickColor":"#000","labelFontSize":26,"labelPadding":9,"labelLineHeight":26,"labelOverlap":false,"labelOffset":{"condition":{"test":"datum.value == 500","value":-13},"value":0},"labelExpr":"datum.value == 500 ? ['°C','hPa'] : datum.label","title":"Abgastemperatur / Abgasgegendruck","titleFontSize":32,"titlePadding":38}},
  "color":{"field":"s","type":"nominal","scale":{"domain":["T","P"],"range":["#8c8c8c","#000000"]}},
  "detail":{"field":"g"}
 }},
{"data":{"name":"dots"},
 "mark":{"type":"circle","size":10,"opacity":1},
 "encoding":{
  "x":{"field":"h","type":"quantitative","axis":{"orient":"top","values":[0,5,10,15,20,25,30,35,40,45,50,55,60,65,70,75,80,85,90,95,100,105,110,115,120,125,130,135,140,145,150],"grid":true,"gridColor":"#000","gridWidth":1,"gridOpacity":1,"labels":false,"ticks":false,"domain":false,"title":null}},
  "y":{"field":"v","type":"quantitative"},
  "color":{"field":"s","type":"nominal","legend":{"orient":"none","legendX":602,"legendY":422,"title":null,"labelExpr":"datum.value == 'T' ? 'Abgastemperatur\u00a0\u2800' : 'Abgasgegendruck\u00a0\u2800'","labelFontSize":26,"labelLimit":500,"labelColor":"#000","symbolType":"circle","symbolSize":260,"symbolOffset":31,"labelOffset":43,"rowPadding":5,"padding":5,"strokeColor":"#000","fillColor":"#fff","symbolStrokeWidth":0,"symbolOpacity":1}}
 }},
{"data":{"name":"cleaning"},
 "mark":{"type":"rule","strokeWidth":3,"color":"#000"},
 "encoding":{"x":{"field":"h","type":"quantitative","axis":null}}},
{"data":{"name":"cleaning"},
 "mark":{"type":"text","fontSize":28,"baseline":"alphabetic","dy":-8,"color":"#000"},
 "encoding":{"x":{"field":"h","type":"quantitative","axis":null},"y":{"datum":550},"text":{"field":"label"}}},
{"data":{"name":"cleaning"},
 "mark":{"type":"text","fontSize":29,"baseline":"alphabetic","align":"left","dy":-8,"dx":2,"color":"#000"},
 "encoding":{"x":{"datum":0,"axis":null},"y":{"datum":550},"text":{"value":"Filterreinigung:"}}}
]
},
{
"width":1002,"height":147,
"data":{"name":"events"},
"layer":[
{"mark":{"type":"rule","color":"#000","strokeWidth":1.5},
 "encoding":{
  "x":{"field":"h","type":"quantitative","scale":{"domain":[0,150],"nice":false},
   "axis":{"values":[0,10,20,30,40,50,60,70,80,90,100,110,120,130,140,150],"grid":false,"domainWidth":4,"domainColor":"#000","tickSize":5,"tickWidth":1.5,"tickColor":"#000","labelFontSize":26,"labelPadding":0,"labelOverlap":false,"labelExpr":"datum.value == 140 ? 'h' : datum.label","title":"Betriebsstunden des Dieselpartikelfilters \"Ba\"","titleFontSize":31,"titlePadding":8}},
  "y":{"field":"lvl","type":"quantitative","scale":{"domain":[0,5.6],"nice":false},
   "axis":{"orient":"left","offset":140,"values":[1,2,3,4,5],"grid":false,"domain":false,"ticks":false,"labelAlign":"left","labelBaseline":"middle","labelPadding":0,"labelLimit":500,"labelOverlap":false,"labelFlush":false,"labelFontSize":23,"labelExpr":"['','E.messung:','P=9 kWₑₗ:','Reinigung durch Erhitzen auf 700 °C:','Vebesserung DPF-Abdichtung:','Isolierung DPF-Gehäuse:'][datum.value]","title":null}},
  "y2":{"datum":0}
 }},
{"mark":{"type":"point","shape":"M-1,-1L1,1M-1,1L1,-1","filled":false,"size":400,"strokeWidth":1.5,"color":"#000","opacity":1},
 "encoding":{
  "x":{"field":"h","type":"quantitative",
   "axis":{"values":[0,10,20,30,40,50,60,70,80,90,100,110,120,130,140,150],"grid":false,"domainWidth":4,"domainColor":"#000","tickSize":5,"tickWidth":1.5,"tickColor":"#000","labelFontSize":26,"labelPadding":0,"labelOverlap":false,"labelExpr":"datum.value == 140 ? 'h' : datum.label","title":"Betriebsstunden des Dieselpartikelfilters \"Ba\"","titleFontSize":31,"titlePadding":8}},
  "y":{"field":"lvl","type":"quantitative",
   "axis":{"orient":"left","offset":140,"values":[1,2,3,4,5],"grid":false,"domain":false,"ticks":false,"labelAlign":"left","labelBaseline":"middle","labelPadding":0,"labelLimit":500,"labelOverlap":false,"labelFlush":false,"labelFontSize":23,"labelExpr":"['','E.messung:','P=9 kWₑₗ:','Reinigung durch Erhitzen auf 700 °C:','Vebesserung DPF-Abdichtung:','Isolierung DPF-Gehäuse:'][datum.value]","title":null}}
 }}
]
}
]
}
